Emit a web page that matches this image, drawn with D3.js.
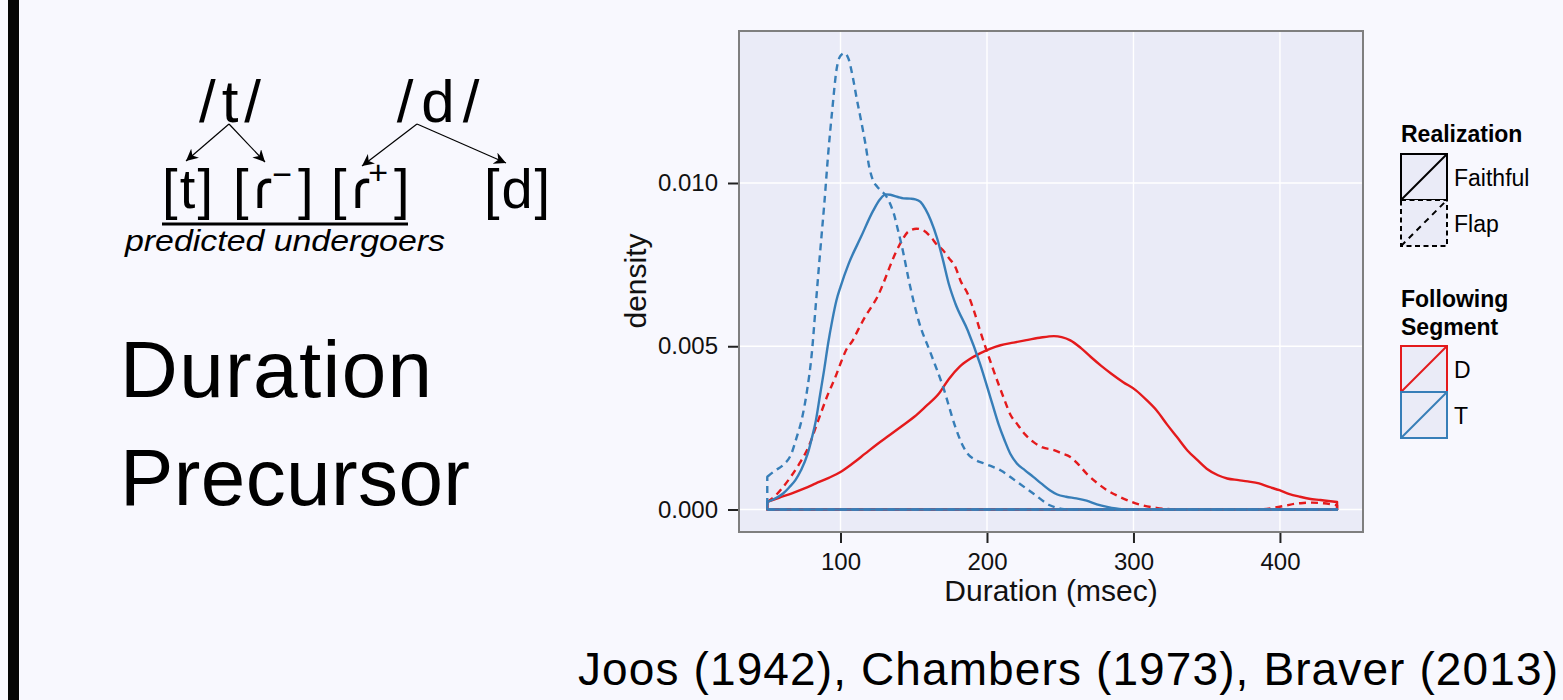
<!DOCTYPE html>
<html><head><meta charset="utf-8">
<script src="https://cdn.jsdelivr.net/npm/d3@7/dist/d3.min.js"></script>
<style>body{margin:0;background:#F8F8FE;} svg{display:block}</style>
</head><body>
<svg id="c" width="1563" height="700"></svg>
<script>
// ---------- data ----------
const xTicks = [100, 200, 300, 400];
const yTicks = [0, 0.005, 0.010];
const yTickLabels = ["0.000", "0.005", "0.010"];
const realizationLevels = ["Faithful", "Flap"];
const segmentLevels = ["D", "T"];

// [duration (msec), density]
const dFaithful = [[50,0.00023],[58,0.00036],[66.4,0.00049],[75,0.00064],[83.2,0.0008],[92,0.00097],[100,0.00115],[108,0.0014],[116.8,0.00171],[125,0.002],[133.6,0.00228],[142,0.00256],[150.4,0.00284],[158,0.00315],[167.2,0.00355],[174,0.004],[181.2,0.00437],[188,0.0046],[195.2,0.00478],[202,0.00492],[209.2,0.00503],[218,0.00511],[226,0.00518],[236,0.00526],[245.7,0.00531],[251,0.00528],[256.9,0.00518],[264,0.00495],[270.9,0.00467],[278,0.0044],[284.9,0.00416],[293,0.0039],[301.7,0.00365],[309,0.00335],[315.7,0.00304],[323,0.0026],[329.7,0.00222],[337,0.0018],[343.7,0.00151],[350,0.00125],[357.7,0.00105],[364,0.00095],[371.7,0.0009],[378,0.00086],[385.7,0.0008],[392,0.0007],[399.7,0.00059],[406,0.00048],[413.7,0.00039],[420,0.00033],[427.7,0.00029],[433,0.00026],[439,0.00023]];
const dFlap = [[50,0.00023],[55,0.0004],[60.8,0.00069],[66,0.001],[72,0.00141],[78,0.0019],[83.2,0.00253],[87,0.003],[91.6,0.00355],[96,0.004],[100,0.00447],[104,0.0049],[108.4,0.00518],[112,0.0055],[116.8,0.0059],[121,0.0062],[125.2,0.00651],[129,0.0069],[133.6,0.00743],[138,0.0079],[142,0.00824],[146,0.0085],[151.8,0.0086],[156,0.00856],[161.6,0.00835],[166,0.0081],[170,0.00794],[174,0.0077],[178.4,0.00743],[182,0.007],[186.8,0.00661],[191,0.0061],[195.2,0.00549],[203.6,0.00437],[212,0.00335],[216,0.0029],[220.4,0.00263],[226,0.0023],[231.6,0.00207],[238,0.0019],[245.7,0.00182],[251,0.00172],[256.9,0.00161],[262,0.0014],[268,0.0011],[275,0.00082],[282,0.00059],[290,0.0004],[298.9,0.00023],[307,0.00012],[315.7,0.00005],[325,0.00001],[332.5,0],[380,0],[388,0.00001],[396.9,0.00006],[404,0.00012],[410.9,0.00018],[416,0.0002],[422,0.00021],[430,0.00019],[439,0.00013]];
const tFaithful = [[50,0.00023],[55,0.00033],[60.8,0.00049],[65,0.00068],[69.2,0.0009],[73,0.0012],[77.6,0.00171],[80.5,0.0022],[83.2,0.00273],[86,0.0035],[88.8,0.00427],[91.6,0.0051],[94.4,0.0058],[97.2,0.0064],[100,0.00682],[105.6,0.00753],[114,0.00835],[122.4,0.00916],[127,0.0095],[130.8,0.00965],[134,0.00964],[139.2,0.00957],[143,0.00953],[147.6,0.00952],[151,0.0095],[154.6,0.00942],[158,0.0092],[161.6,0.00886],[166,0.0083],[170,0.00763],[174,0.0069],[178.4,0.00631],[186.8,0.00549],[195.2,0.00447],[203.6,0.00324],[208,0.0026],[212,0.00212],[216,0.0017],[220.4,0.00141],[226,0.0012],[231.6,0.001],[237,0.0008],[242.9,0.00059],[248,0.00046],[254,0.00039],[261,0.00034],[268,0.00027],[275,0.00016],[282,0.00008],[288,0.00003],[295,0],[439,0]];
const tFlap = [[50,0.001],[55,0.00118],[60.8,0.00136],[66.4,0.0017],[70,0.0022],[73.4,0.00273],[77,0.0036],[80.4,0.00478],[83,0.0062],[86,0.00784],[89,0.0094],[91.6,0.0109],[94.5,0.0123],[97.2,0.01345],[100,0.0139],[102.8,0.01398],[105.5,0.0138],[108.4,0.01324],[111,0.0126],[114,0.01192],[117,0.0112],[119.6,0.01049],[122,0.0101],[125.2,0.00988],[128,0.00975],[130.8,0.00962],[133.5,0.0094],[136.4,0.00906],[139,0.0086],[142,0.00804],[147.6,0.00682],[153.2,0.0058],[161.6,0.00478],[170,0.00376],[178.4,0.00253],[183,0.002],[186.8,0.00171],[192,0.00152],[198,0.00141],[209.2,0.0012],[220.4,0.00085],[231.6,0.00049],[242.9,0.00013],[251,0.00002],[260,0],[439,0]];

const series = [
  {seg: "D", real: "Faithful", values: dFaithful},
  {seg: "D", real: "Flap", values: dFlap},
  {seg: "T", real: "Flap", values: tFlap},
  {seg: "T", real: "Faithful", values: tFaithful}
];

// ---------- styling ----------
const RED = "#E41A1C", BLUE = "#377EB8";
const segColor = {D: RED, T: BLUE};
const realDash = {Faithful: null, Flap: "7,5"};
const PANEL = "#EAEBF7";
const chartFont = "'Liberation Sans', Arial, Helvetica, sans-serif";
const slideFont = "'Liberation Sans', 'DejaVu Sans', Arial, sans-serif";

const svg = d3.select("#c");
svg.append("rect").attr("width",1563).attr("height",700).attr("fill","#F8F8FE");
// left black bar
svg.append("rect").attr("x",8).attr("y",0).attr("width",11).attr("height",700).attr("fill","#050505");

// ---------- plot ----------
const P = {l: 739, r: 1363, t: 31, b: 532};
const x = d3.scaleLinear().domain([30.7, 456.7]).range([P.l, P.r]);
const y = d3.scaleLinear().domain([-0.000689, 0.014655]).range([P.b, P.t]);

svg.append("rect").attr("x",P.l).attr("y",P.t).attr("width",P.r-P.l).attr("height",P.b-P.t).attr("fill",PANEL);
const grid = svg.append("g");
grid.selectAll("line.vx").data(xTicks).join("line")
  .attr("x1",d=>x(d)).attr("x2",d=>x(d)).attr("y1",P.t).attr("y2",P.b)
  .attr("stroke","#fff").attr("stroke-width",1.4);
grid.selectAll("line.hy").data(yTicks).join("line")
  .attr("y1",d=>y(d)).attr("y2",d=>y(d)).attr("x1",P.l).attr("x2",P.r)
  .attr("stroke","#fff").attr("stroke-width",1.4);

const area = d3.area().x(d=>x(d[0])).y0(y(0)).y1(d=>y(d[1])).curve(d3.curveMonotoneX);
svg.append("g").selectAll("path").data(series).join("path")
  .attr("d", d=>area(d.values))
  .attr("fill","none")
  .attr("stroke", d=>segColor[d.seg])
  .attr("stroke-width",2.4)
  .attr("stroke-linejoin","round")
  .attr("stroke-dasharray", d=>realDash[d.real]);

svg.append("rect").attr("x",P.l).attr("y",P.t).attr("width",P.r-P.l).attr("height",P.b-P.t)
  .attr("fill","none").attr("stroke","#7f7f7f").attr("stroke-width",2);

// axes
const xAxis = svg.append("g").attr("transform",`translate(0,${P.b+1})`)
  .call(d3.axisBottom(x).tickValues(xTicks).tickSize(10).tickPadding(10).tickFormat(d3.format("d")));
const yAxis = svg.append("g").attr("transform",`translate(${P.l-1},0)`)
  .call(d3.axisLeft(y).tickValues(yTicks).tickSize(10).tickPadding(10).tickFormat((d,i)=>yTickLabels[i]));
[xAxis,yAxis].forEach(a=>{
  a.select(".domain").remove();
  a.selectAll(".tick line").attr("stroke","#222").attr("stroke-width",2);
  a.selectAll(".tick text").attr("fill","#111").style("font-family",chartFont).style("font-size","24px");
});
svg.append("text").attr("x",(P.l+P.r)/2).attr("y",601).attr("text-anchor","middle")
  .style("font-family",chartFont).style("font-size","30px").attr("fill","#111").text("Duration (msec)");
svg.append("text").attr("transform","translate(646,281) rotate(-90)").attr("text-anchor","middle")
  .style("font-family",chartFont).style("font-size","30px").attr("fill","#111").text("density");

// legend
const lg = svg.append("g").style("font-family",chartFont);
const KX = 1401, KS = 46;
lg.append("text").attr("x",KX).attr("y",142).style("font-size","23px").style("font-weight","bold").text("Realization");
realizationLevels.forEach((r,i)=>{
  const ky = 154 + i*KS;
  const g = lg.append("g");
  g.append("rect").attr("x",KX).attr("y",ky).attr("width",KS).attr("height",KS).attr("fill",PANEL)
    .attr("stroke","#000").attr("stroke-width",2).attr("stroke-dasharray",realDash[r] ? "5,3.5" : null);
  g.append("line").attr("x1",KX).attr("y1",ky+KS).attr("x2",KX+KS).attr("y2",ky)
    .attr("stroke","#000").attr("stroke-width",2).attr("stroke-dasharray",realDash[r] ? "6,5" : null);
  lg.append("text").attr("x",1454).attr("y",ky+32).style("font-size","23px").text(r);
});
lg.append("text").attr("x",KX).attr("y",307).style("font-size","23px").style("font-weight","bold").text("Following");
lg.append("text").attr("x",KX).attr("y",335).style("font-size","23px").style("font-weight","bold").text("Segment");
segmentLevels.forEach((s,i)=>{
  const ky = 346 + i*KS;
  const g = lg.append("g");
  g.append("rect").attr("x",KX).attr("y",ky).attr("width",KS).attr("height",KS).attr("fill",PANEL)
    .attr("stroke",segColor[s]).attr("stroke-width",2);
  g.append("line").attr("x1",KX).attr("y1",ky+KS).attr("x2",KX+KS).attr("y2",ky)
    .attr("stroke",segColor[s]).attr("stroke-width",2);
  lg.append("text").attr("x",1454).attr("y",ky+32).style("font-size","23px").text(s);
});

// ---------- slide text ----------
const st = svg.append("g").style("font-family",slideFont).attr("fill","#000");
st.append("text").attr("x",233).attr("y",122).attr("text-anchor","middle").style("font-size","60px").style("letter-spacing","6px").text("/t/");
st.append("text").attr("x",442).attr("y",122).attr("text-anchor","middle").style("font-size","60px").style("letter-spacing","8px").text("/d/");

// second row
st.append("text").attr("x",162).attr("y",208).style("font-size","56px").attr("textLength",51).attr("lengthAdjust","spacing").text("[t]");
const f1 = st.append("text").attr("x",233).attr("y",208).style("font-size","56px");
f1.append("tspan").text("[");
f1.append("tspan").attr("dx",5).text("ɾ");
f1.append("tspan").attr("dy",-22).style("font-size","34px").text("−");
f1.append("tspan").attr("dy",22).attr("dx",6).text("]");
const f2 = st.append("text").attr("x",331).attr("y",208).style("font-size","56px");
f2.append("tspan").text("[");
f2.append("tspan").attr("dx",5).text("ɾ");
f2.append("tspan").attr("dy",-24).attr("dx",-2).style("font-size","34px").text("+");
f2.append("tspan").attr("dy",24).attr("dx",6).text("]");
st.append("text").attr("x",484).attr("y",208).style("font-size","56px").attr("textLength",66).attr("lengthAdjust","spacing").text("[d]");
st.append("line").attr("x1",162).attr("x2",408).attr("y1",224).attr("y2",224).attr("stroke","#000").attr("stroke-width",3);
st.append("text").attr("x",125).attr("y",251).style("font-size","29px").style("font-style","italic")
  .attr("textLength",320).attr("lengthAdjust","spacingAndGlyphs").text("predicted undergoers");

// arrows
const defs = svg.append("defs");
defs.append("marker").attr("id","ah").attr("viewBox","0 0 10 10").attr("refX",10).attr("refY",5)
  .attr("markerWidth",12).attr("markerHeight",12).attr("markerUnits","userSpaceOnUse").attr("orient","auto")
  .append("path").attr("d","M0,0 L10,5 L0,10 L3,5 Z").attr("fill","#000");
const arrows = [[229,124,186,161],[229,124,265,162],[417,124,362,166],[417,124,506,163]];
st.selectAll("line.ar").data(arrows).join("line")
  .attr("x1",d=>d[0]).attr("y1",d=>d[1]).attr("x2",d=>d[2]).attr("y2",d=>d[3])
  .attr("stroke","#000").attr("stroke-width",1.2).attr("marker-end","url(#ah)");

st.append("text").attr("x",120).attr("y",397).style("font-size","80px").attr("textLength",312).attr("lengthAdjust","spacing").text("Duration");
st.append("text").attr("x",120).attr("y",505).style("font-size","80px").attr("textLength",350).attr("lengthAdjust","spacing").text("Precursor");
st.append("text").attr("x",578).attr("y",685).style("font-size","46px").attr("textLength",980).attr("lengthAdjust","spacing").text("Joos (1942), Chambers (1973), Braver (2013)");
</script>
</body></html>
